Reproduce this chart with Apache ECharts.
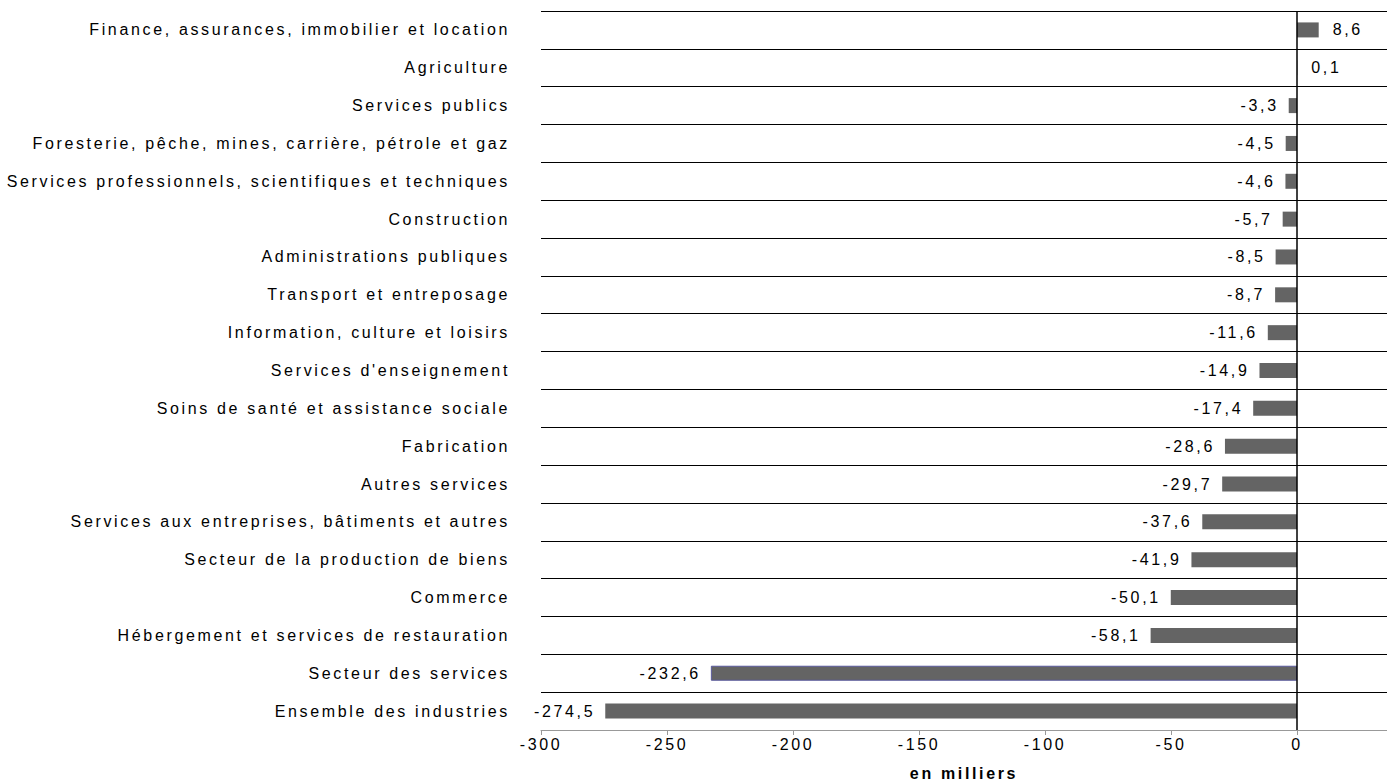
<!DOCTYPE html>
<html>
<head>
<meta charset="utf-8">
<script src="https://cdn.jsdelivr.net/npm/echarts@6/dist/echarts.min.js"></script>
<style>
html,body{margin:0;padding:0;background:#fff;}
#chart{width:1387px;height:783px;}
#chart svg text{letter-spacing:2.65px;}
</style>
</head>
<body>
<div id="chart"></div>
<script>
const categories = [
  "Finance, assurances, immobilier et location",
  "Agriculture",
  "Services publics",
  "Foresterie, pêche, mines, carrière, pétrole et gaz",
  "Services professionnels, scientifiques et techniques",
  "Construction",
  "Administrations publiques",
  "Transport et entreposage",
  "Information, culture et loisirs",
  "Services d'enseignement",
  "Soins de santé et assistance sociale",
  "Fabrication",
  "Autres services",
  "Services aux entreprises, bâtiments et autres",
  "Secteur de la production de biens",
  "Commerce",
  "Hébergement et services de restauration",
  "Secteur des services",
  "Ensemble des industries"
];
const values = [8.6, 0.1, -3.3, -4.5, -4.6, -5.7, -8.5, -8.7, -11.6, -14.9, -17.4, -28.6, -29.7, -37.6, -41.9, -50.1, -58.1, -232.6, -274.5];
const xTicks = [-300, -250, -200, -150, -100, -50, 0];
const axisTitle = "en milliers";

const FONT = 'Liberation Sans, Arial';
const fmt = v => String(v.toFixed(1)).replace('.', ',');
const data = values.map((v, i) => {
  const d = {
    value: v,
    label: { position: v >= 0 ? 'right' : 'left', distance: v >= 0 ? 14 : 10 }
  };
  if (categories[i] === "Secteur des services") {
    d.itemStyle = { borderColor: '#5a5a9c', borderWidth: 1 };
  }
  return d;
});

const chart = echarts.init(document.getElementById('chart'), null, { renderer: 'svg' });
chart.setOption({
  animation: false,
  backgroundColor: '#fff',
  grid: { left: 541, right: 0, top: 11, bottom: 53, containLabel: false, outerBoundsMode: 'none' },
  xAxis: {
    type: 'value',
    min: -300,
    max: 35.7,
    interval: 50,
    name: axisTitle,
    nameLocation: 'middle',
    nameGap: 35,
    nameTextStyle: { fontFamily: FONT, fontSize: 16, fontWeight: 'bold', color: '#000' },
    axisLine: { show: true, lineStyle: { color: '#999', width: 1 } },
    axisTick: { show: true, length: 5, lineStyle: { color: '#999' }, customValues: xTicks },
    axisLabel: {
      fontFamily: FONT, fontSize: 16, color: '#000', margin: 6,
      customValues: xTicks,
      formatter: v => xTicks.includes(v) ? String(v) : ''
    },
    splitLine: { show: false }
  },
  yAxis: {
    type: 'category',
    inverse: true,
    data: categories,
    axisLine: { show: false },
    axisTick: { show: false },
    axisLabel: { interval: 0, fontFamily: FONT, fontSize: 16, color: '#000', margin: 31 },
    splitLine: { show: true, interval: 0, lineStyle: { color: '#000', width: 1 } }
  },
  series: [{
    type: 'bar',
    data: data,
    barWidth: 15,
    itemStyle: { color: '#646464' },
    label: {
      show: true,
      fontFamily: FONT,
      fontSize: 16,
      color: '#000',
      formatter: p => fmt(p.value)
    },
    markLine: {
      silent: true,
      symbol: 'none',
      label: { show: false },
      lineStyle: { color: '#000', width: 1.5, type: 'solid' },
      data: [{ xAxis: 0 }]
    }
  }]
});
</script>
</body>
</html>
